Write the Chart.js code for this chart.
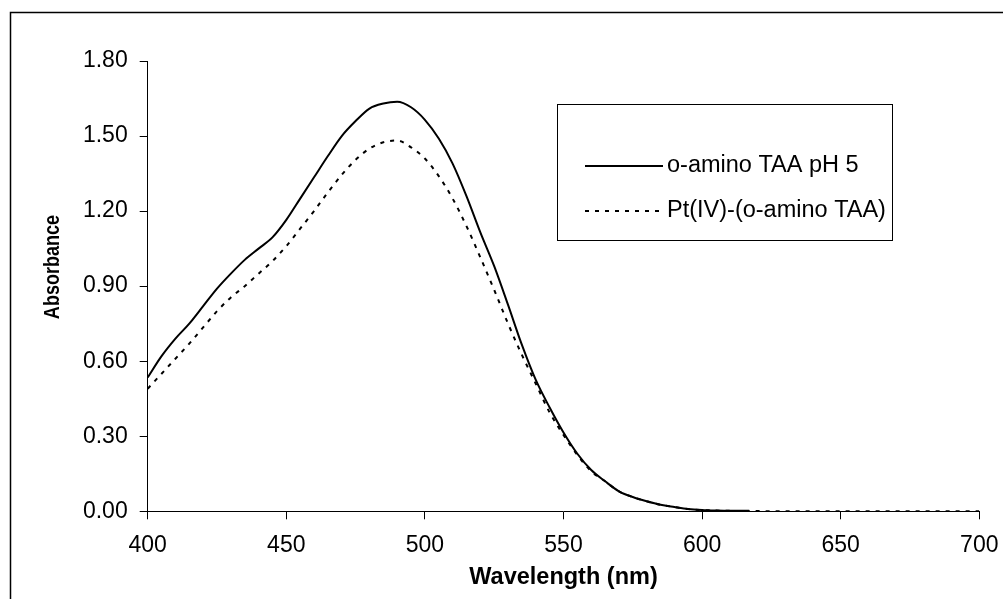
<!DOCTYPE html>
<html><head><meta charset="utf-8">
<script src="https://cdn.jsdelivr.net/npm/chart.js@4/dist/chart.umd.min.js"></script>
<style>html,body{margin:0;padding:0;background:#fff}canvas{display:block}</style>
</head><body>
<canvas id="c" width="1003" height="599"></canvas>
<script>
// ---- data ----
const seriesNames = ['o-amino TAA pH 5', 'Pt(IV)-(o-amino TAA)'];
const xTitle = 'Wavelength (nm)';
const yTitle = 'Absorbance';
const xTicks = [400, 450, 500, 550, 600, 650, 700];
const yTicks = [0, 0.3, 0.6, 0.9, 1.2, 1.5, 1.8];

const wavelengthsA = [400,405,410,415,420,425,430,435,440,445,450,455,460,465,470,475,480,485,490,495,500,505,510,515,520,525,530,535,540,545,550,555,560,565,570,575,580,585,590,595,600,605,610,617];
const absorbanceA  = [0.535,0.62,0.69,0.75,0.82,0.89,0.95,1.005,1.05,1.095,1.165,1.25,1.335,1.42,1.50,1.56,1.61,1.63,1.637,1.615,1.565,1.49,1.39,1.26,1.115,0.98,0.825,0.665,0.525,0.415,0.315,0.23,0.165,0.12,0.08,0.057,0.04,0.026,0.017,0.009,0.005,0.003,0.002,0.002];

const wavelengthsB = [400,405,410,415,420,425,430,435,440,445,450,455,460,465,470,475,480,485,490,495,500,505,510,515,520,525,530,535,540,545,550,555,560,565,570,575,580,585,590,595,600,605,610,617,650,700];
const absorbanceB  = [0.49,0.55,0.61,0.67,0.735,0.80,0.855,0.90,0.95,1.00,1.06,1.13,1.20,1.275,1.345,1.405,1.45,1.475,1.482,1.455,1.41,1.34,1.25,1.14,1.015,0.885,0.75,0.625,0.51,0.395,0.305,0.225,0.16,0.12,0.08,0.057,0.04,0.026,0.017,0.009,0.005,0.003,0.002,0.001,0,0];

const FONT = '"Liberation Sans", Arial, sans-serif';

function toPoints(xs, ys) { return xs.map((x, i) => ({x: x, y: ys[i]})); }

const decor = {
  id: 'decor',
  beforeDraw(chart) {
    const ctx = chart.ctx;
    ctx.save();
    ctx.fillStyle = '#fff';
    ctx.fillRect(0, 0, chart.width, chart.height);
    ctx.strokeStyle = '#000';
    ctx.lineWidth = 1.5;
    ctx.beginPath();
    ctx.moveTo(10.5, chart.height);
    ctx.lineTo(10.5, 12.5);
    ctx.lineTo(chart.width, 12.5);
    ctx.stroke();
    ctx.restore();
  },
  afterDraw(chart) {
    const ctx = chart.ctx;
    ctx.save();
    // y-axis title
    ctx.translate(53, 267);
    ctx.rotate(-Math.PI / 2);
    ctx.scale(0.82, 1);
    ctx.font = 'bold 22px ' + FONT;
    ctx.fillStyle = '#000';
    ctx.textAlign = 'center';
    ctx.textBaseline = 'middle';
    ctx.fillText(yTitle, 0, 0);
    ctx.restore();

    // legend
    ctx.save();
    ctx.fillStyle = '#fff';
    ctx.fillRect(557.5, 104.5, 335, 136);
    ctx.strokeStyle = '#000';
    ctx.lineWidth = 1;
    ctx.strokeRect(557.5, 104.5, 335, 136);
    const rows = [166, 211];
    chart.data.datasets.forEach((ds, i) => {
      ctx.beginPath();
      ctx.setLineDash(ds.borderDash || []);
      ctx.lineWidth = ds.borderWidth;
      ctx.strokeStyle = ds.borderColor;
      ctx.moveTo(585, rows[i]);
      ctx.lineTo(663, rows[i]);
      ctx.stroke();
      ctx.setLineDash([]);
      ctx.font = '23.5px ' + FONT;
      ctx.fillStyle = '#000';
      ctx.textAlign = 'left';
      ctx.textBaseline = 'middle';
      ctx.fillText(ds.label, 667, rows[i]);
    });
    ctx.restore();
  }
};

new Chart(document.getElementById('c'), {
  type: 'line',
  data: {
    datasets: [
      {label: seriesNames[0], data: toPoints(wavelengthsA, absorbanceA), borderColor: '#000', borderWidth: 2, pointRadius: 0, fill: false, cubicInterpolationMode: 'monotone'},
      {label: seriesNames[1], data: toPoints(wavelengthsB, absorbanceB), borderColor: '#000', borderWidth: 2, borderDash: [4, 6], pointRadius: 0, fill: false, cubicInterpolationMode: 'monotone'}
    ]
  },
  options: {
    responsive: false,
    animation: false,
    events: [],
    layout: {padding: {top: 61, right: 23.7, bottom: 0, left: 0}},
    plugins: {legend: {display: false}, tooltip: {enabled: false}},
    scales: {
      x: {
        type: 'linear', min: 400, max: 700,
        afterBuildTicks: s => { s.ticks = xTicks.map(v => ({value: v})); },
        afterFit: s => { s.height = 599 - 511.3; s.paddingLeft = 0; s.paddingRight = 0; },
        ticks: {color: '#000', font: {family: FONT, size: 23}, padding: 13, maxRotation: 0},
        grid: {display: true, drawOnChartArea: false, drawTicks: true, tickLength: 8, color: '#000', lineWidth: 1},
        border: {display: true, color: '#000', width: 1},
        title: {display: true, text: xTitle, color: '#000', font: {family: FONT, size: 23.5, weight: 'bold'}, padding: {top: 0, bottom: 7}}
      },
      y: {
        type: 'linear', min: 0, max: 1.8,
        afterBuildTicks: s => { s.ticks = yTicks.map(v => ({value: v})); },
        afterFit: s => { s.width = 147.7; s.paddingTop = 0; s.paddingBottom = 0; },
        ticks: {color: '#000', font: {family: FONT, size: 23}, padding: 12, callback: v => v.toFixed(2)},
        grid: {display: true, drawOnChartArea: false, drawTicks: true, tickLength: 8, color: '#000', lineWidth: 1},
        border: {display: true, color: '#000', width: 1}
      }
    }
  },
  plugins: [decor]
});
</script>
</body></html>
